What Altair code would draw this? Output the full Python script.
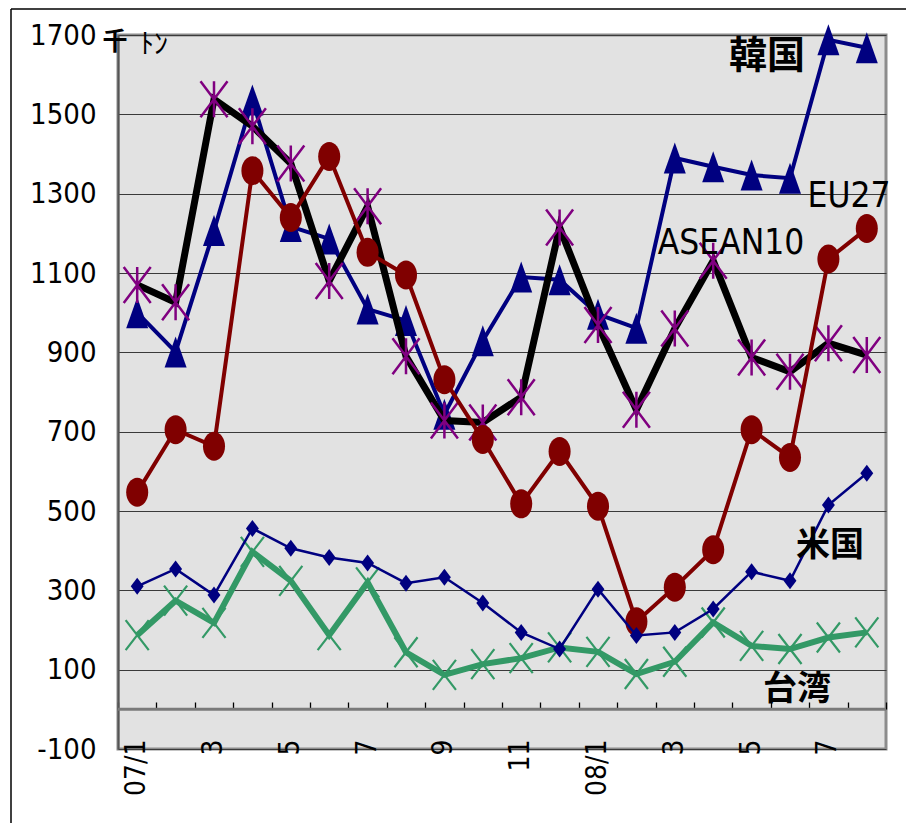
import altair as alt
import pandas as pd

# ---- data ----
periods = ["07/1", "07/2", "07/3", "07/4", "07/5", "07/6", "07/7", "07/8", "07/9", "07/10",
           "07/11", "07/12", "08/1", "08/2", "08/3", "08/4", "08/5", "08/6", "08/7", "08/8"]
tick_text = ["07/1", "", "3", "", "5", "", "7", "", "9", "", "11", "",
             "08/1", "", "3", "", "5", "", "7", ""]
series_names = ["韓国", "ASEAN10", "EU27", "米国", "台湾"]
korea = [1000, 901, 1207, 1536, 1217, 1186, 1009, 980, 744, 929, 1090, 1083, 996, 961,
         1390, 1368, 1347, 1339, 1688, 1668]
asean = [1070, 1026, 1538, 1470, 1376, 1080, 1268, 890, 728, 723, 787, 1215, 969, 755,
         960, 1131, 887, 851, 923, 893]
eu = [547, 705, 663, 1358, 1240, 1394, 1152, 1095, 831, 680, 518, 650, 512, 221,
      308, 402, 705, 635, 1135, 1212]
us = [310, 354, 288, 456, 406, 383, 369, 318, 333, 268, 194, 152, 303, 186,
      194, 253, 347, 324, 515, 595]
taiwan = [187, 274, 218, 397, 324, 187, 320, 144, 87, 114, 129, 156, 145, 89,
          120, 219, 160, 152, 181, 194]
y_ticks = [-100, 100, 300, 500, 700, 900, 1100, 1300, 1500, 1700]
unit_main = "千"
unit_kana = "ﾄﾝ"

rows = []
for name, vals in zip(series_names, [korea, asean, eu, us, taiwan]):
    for p, v in zip(periods, vals):
        rows.append({"period": p, "series": name, "value": v})
df = pd.DataFrame(rows)

W, H = 768, 714
FONT = "Liberation Sans Narrow, Arial Narrow, DejaVu Sans Condensed, sans-serif"
CJK = "Noto Sans CJK JP"

y_enc = alt.Y("value:Q",
              scale=alt.Scale(domain=[-100, 1700], nice=False, zero=False),
              axis=alt.Axis(values=y_ticks, title=None, grid=True, gridColor="#3a3a3a",
                            gridWidth=1.2, ticks=False, tickSize=0, labelPadding=22,
                            labelExpr="'' + datum.value",
                            labelFont=FONT, labelFontSize=29, labelColor="black",
                            domainColor="#555555", domainWidth=2, labelFlush=False))

x_scale = alt.Scale(type="band", paddingInner=0, paddingOuter=0)
label_expr = ("[" + ",".join(f"'{t}'" for t in tick_text) + "][indexof(["
              + ",".join(f"'{p}'" for p in periods) + "], datum.value)]")
x_none = alt.X("period:N", sort=periods, scale=x_scale, axis=None)
x_bottom = alt.X("period:N", sort=periods, scale=x_scale,
                 axis=alt.Axis(title=None, labelAngle=270, labelAlign="right",
                               labelBaseline="middle", labelPadding=-10, ticks=False,
                               tickSize=0, domain=False, grid=False, labelExpr=label_expr,
                               labelOverlap=False, labelFont=FONT, labelFontSize=28,
                               labelColor="black"))
x_top = alt.X("period:N", sort=periods, scale=x_scale,
              axis=alt.Axis(orient="top", offset=-674, title=None, labels=False,
                            domain=False, grid=False, ticks=True, tickBand="extent",
                            tickSize=7, tickColor="black", tickWidth=1.3))

TRI = "M0,-1L0.71,1L-0.71,1Z"
ELL = "M-0.76,0A0.76,1,0,1,1,0.76,0A0.76,1,0,1,1,-0.76,0Z"
DIA = "M0,-1L0.76,0L0,1L-0.76,0Z"
STAR = "M-0.75,-1L0.75,1M0.75,-1L-0.75,1M0,-1L0,1"
XS = "M-0.77,-1L0.77,1M0.77,-1L-0.77,1"


def series(name, color, width, shape, size, filled, mcolor, mwidth, x_enc):
    base = alt.Chart(df).transform_filter(alt.datum.series == name)
    line = base.mark_line(color=color, strokeWidth=width).encode(x=x_enc, y=y_enc)
    if filled:
        pts = base.mark_point(shape=shape, size=size, filled=True, color=mcolor,
                              opacity=1).encode(x=x_none, y=y_enc)
    else:
        pts = base.mark_point(shape=shape, size=size, filled=False, color=mcolor,
                              strokeWidth=mwidth, opacity=1).encode(x=x_none, y=y_enc)
    return [line, pts]


def text(txt, px, py, size, font, weight="normal"):
    return alt.Chart(pd.DataFrame({"t": [txt]})).mark_text(
        font=font, fontSize=size, fontWeight=weight, align="center",
        baseline="middle", color="black").encode(
        x=alt.value(px), y=alt.value(py), text="t:N")


one = pd.DataFrame({"value": [0]})
zero_line = alt.Chart(one).mark_rule(color="#7a7a7a", strokeWidth=3).encode(y=y_enc)
border_v = alt.Chart(one).mark_rule(color="black", strokeWidth=1.5).encode(
    x=alt.value(-107), y=alt.value(-26), y2=alt.value(H + 120))
border_h = alt.Chart(one).mark_rule(color="black", strokeWidth=1.5).encode(
    x=alt.value(-107), x2=alt.value(W + 60), y=alt.value(-26))

layers = [zero_line, border_v, border_h]
layers += series("韓国", "#000080", 4, TRI, 961, True, "#000080", 0, x_bottom)
layers += series("ASEAN10", "black", 7, STAR, 1296, False, "#800080", 2.5, x_none)
layers += series("EU27", "#800000", 4, ELL, 841, True, "#800000", 0, x_none)
layers += series("台湾", "#339966", 6, XS, 900, False, "#339966", 2.2, x_top)
layers += series("米国", "#000080", 2.5, DIA, 289, True, "#000080", 0, x_none)
layers += [
    text(series_names[0], 649, 22, 38, CJK, "bold"),
    text(series_names[1], 613, 208, 35, FONT),
    text(series_names[2], 731, 161, 35, FONT),
    text(series_names[3], 712, 511, 34, CJK, "bold"),
    text(series_names[4], 679, 655, 34, CJK, "bold"),
    text(unit_main, -3, 7, 25, CJK, "bold"),
    text(unit_kana, 36, 11, 28, CJK),
]

chart = alt.layer(*layers).resolve_axis(x="independent").properties(
    width=W, height=H,
    padding={"left": 110, "top": 27, "right": 20, "bottom": 74},
    autosize=alt.AutoSizeParams(type="none"),
    background="white",
).configure_view(fill="#E2E2E2", stroke="#8c8c8c", strokeWidth=3)

chart.save("out.html", embed_options={"renderer": "svg", "actions": False})
